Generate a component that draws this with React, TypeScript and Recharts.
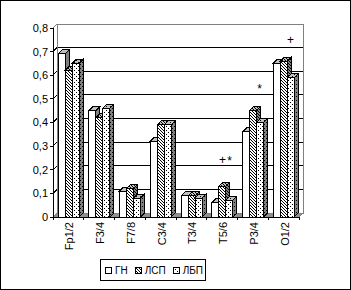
import { BarChart, Bar, XAxis, YAxis, CartesianGrid, Legend, ReferenceDot } from 'recharts';

const categories = ['Fp1/2', 'F3/4', 'F7/8', 'C3/4', 'T3/4', 'T5/6', 'P3/4', 'O1/2'];
const gnValues = [0.69, 0.45, 0.11, 0.32, 0.09, 0.06, 0.36, 0.65];
const lspValues = [0.62, 0.42, 0.12, 0.39, 0.09, 0.13, 0.45, 0.66];
const lbpValues = [0.65, 0.46, 0.08, 0.39, 0.08, 0.07, 0.4, 0.59];
const yTicks = [0, 0.1, 0.2, 0.3, 0.4, 0.5, 0.6, 0.7, 0.8];

// significance marks drawn over the bars
const marks = [
  { category: 'T5/6', series: 'lsp', level: 0.24, text: '+' },
  { category: 'T5/6', series: 'lbp', level: 0.235, text: '*' },
  { category: 'P3/4', series: 'lbp', level: 0.54, text: '*' },
  { category: 'O1/2', series: 'lbp', level: 0.75, text: '+' },
];

const series = [
  { key: 'gn', name: 'ГН', front: '#fff', top: '#c0c0c0', side: '#808080' },
  { key: 'lsp', name: 'ЛСП', front: 'url(#hatch)', top: 'url(#hatchTop)', side: 'url(#hatchSide)' },
  { key: 'lbp', name: 'ЛБП', front: 'url(#dots)', top: 'url(#dotsTop)', side: 'url(#dotsSide)' },
];

const data = categories.map((name, i) => ({
  name,
  gn: gnValues[i],
  lsp: lspValues[i],
  lbp: lbpValues[i],
}));

const W = 351;
const H = 290;
const PLOT_LEFT = 53;
const PLOT_RIGHT = 299;
const PLOT_TOP = 28;
const PLOT_BOTTOM = 217;
const X_AXIS_H = 30;
const DEPTH = 4;
const BAR = 7;
const BAND = (PLOT_RIGHT - PLOT_LEFT) / categories.length;
const FONT = '"Liberation Sans", Arial, sans-serif';

const makeBar = (s: (typeof series)[number]) => (p: any) => {
  const { x, y, width, height } = p;
  const d = DEPTH;
  return (
    <g stroke="#000" strokeWidth={1}>
      <polygon
        points={`${x + width},${y} ${x + width + d},${y - d} ${x + width + d},${y + height - d} ${x + width},${y + height}`}
        fill={s.side}
      />
      <polygon points={`${x},${y} ${x + d},${y - d} ${x + width + d},${y - d} ${x + width},${y}`} fill={s.top} />
      <rect x={x} y={y} width={width} height={height} fill={s.front} />
    </g>
  );
};

const gridLine = (p: any) => {
  const { x1, x2, y1 } = p;
  const d = DEPTH;
  if (Math.abs(y1 - PLOT_BOTTOM) < 1) {
    return (
      <polygon
        key="floor"
        points={`${x1},${y1} ${x1 + d},${y1 - d} ${x2 + d},${y1 - d} ${x2},${y1}`}
        fill="#909090"
        stroke="#808080"
      />
    );
  }
  if (Math.abs(y1 - PLOT_TOP) < 1) {
    return (
      <g key="wall" stroke="#808080" fill="none">
        <rect x={x1 + d} y={y1 - d} width={x2 - x1} height={PLOT_BOTTOM - PLOT_TOP} />
        <line x1={x1} y1={y1} x2={x1 + d} y2={y1 - d} />
        <line x1={x2} y1={PLOT_BOTTOM} x2={x2 + d} y2={PLOT_BOTTOM - d} />
      </g>
    );
  }
  return (
    <g key={`g${y1}`} stroke="#000">
      <line x1={x1} y1={y1} x2={x1 + d} y2={y1 - d} />
      <line x1={x1 + d} y1={y1 - d} x2={x2 + d} y2={y1 - d} />
    </g>
  );
};

const XTick = (p: any) => {
  const { x, payload, index } = p;
  const half = BAND / 2;
  return (
    <g>
      <line x1={x - half} y1={PLOT_BOTTOM} x2={x - half} y2={PLOT_BOTTOM + 3} stroke="#000" />
      {index === categories.length - 1 ? (
        <line x1={x + half} y1={PLOT_BOTTOM} x2={x + half} y2={PLOT_BOTTOM + 3} stroke="#000" />
      ) : null}
      <text
        transform={`translate(${x + 1},${PLOT_BOTTOM + 5}) rotate(-90)`}
        textAnchor="end"
        dominantBaseline="central"
        fontSize={11}
        fill="#000"
        fontFamily={FONT}
      >
        {payload.value}
      </text>
    </g>
  );
};

const slotOffset: Record<string, number> = { gn: -BAR, lsp: 0, lbp: BAR };

const LegendBox = () => (
  <div
    style={{
      boxSizing: 'border-box',
      width: 106,
      height: 22,
      border: '1px solid #000',
      background: '#fff',
      display: 'flex',
      alignItems: 'center',
      paddingLeft: 4,
      fontFamily: FONT,
      fontSize: 10,
      color: '#000',
    }}
  >
    {series.map((s) => (
      <span key={s.key} style={{ display: 'flex', alignItems: 'center', marginRight: 7 }}>
        <svg width={7} height={7} style={{ marginRight: 3 }}>
          <rect x={0.5} y={0.5} width={6} height={6} fill={s.front} stroke="#000" />
        </svg>
        {s.name}
      </span>
    ))}
  </div>
);

export default function App() {
  return (
    <div
      style={{
        position: 'absolute',
        left: 0,
        top: 0,
        width: W,
        height: H,
        background: '#fff',
        shapeRendering: 'crispEdges',
      }}
    >
      <BarChart
        width={W}
        height={H}
        data={data}
        margin={{ top: PLOT_TOP, right: W - PLOT_RIGHT, bottom: H - PLOT_BOTTOM - X_AXIS_H, left: 0 }}
        barSize={BAR}
        barGap={0}
        style={{ fontFamily: FONT }}
      >
        <defs>
          <pattern id="hatch" patternUnits="userSpaceOnUse" width={3} height={3}>
            <rect width={3} height={3} fill="#fff" />
            <path d="M-1,-1 L4,4 M-1,2 L1,4 M2,-1 L4,1" stroke="#000" strokeWidth={1.1} />
          </pattern>
          <pattern id="hatchTop" patternUnits="userSpaceOnUse" width={3} height={3}>
            <rect width={3} height={3} fill="#c0c0c0" />
            <path d="M-1,-1 L4,4 M-1,2 L1,4 M2,-1 L4,1" stroke="#000" strokeWidth={1.1} />
          </pattern>
          <pattern id="hatchSide" patternUnits="userSpaceOnUse" width={3} height={3}>
            <rect width={3} height={3} fill="#808080" />
            <path d="M-1,-1 L4,4 M-1,2 L1,4 M2,-1 L4,1" stroke="#000" strokeWidth={1.1} />
          </pattern>
          <pattern id="dots" patternUnits="userSpaceOnUse" width={4} height={4}>
            <rect width={4} height={4} fill="#fff" />
            <rect x={0} y={0} width={1} height={1} fill="#000" />
            <rect x={2} y={2} width={1} height={1} fill="#000" />
          </pattern>
          <pattern id="dotsTop" patternUnits="userSpaceOnUse" width={4} height={4}>
            <rect width={4} height={4} fill="#c0c0c0" />
            <rect x={0} y={0} width={1} height={1} fill="#000" />
            <rect x={2} y={2} width={1} height={1} fill="#000" />
          </pattern>
          <pattern id="dotsSide" patternUnits="userSpaceOnUse" width={4} height={4}>
            <rect width={4} height={4} fill="#808080" />
            <rect x={0} y={0} width={1} height={1} fill="#000" />
            <rect x={2} y={2} width={1} height={1} fill="#000" />
          </pattern>
        </defs>
        <CartesianGrid vertical={false} horizontal={gridLine} />
        <XAxis
          dataKey="name"
          height={X_AXIS_H}
          interval={0}
          tickLine={false}
          tickSize={3}
          tickMargin={2}
          axisLine={{ stroke: '#000' }}
          tick={<XTick />}
        />
        <YAxis
          width={PLOT_LEFT}
          domain={[0, 0.8]}
          ticks={yTicks}
          interval={0}
          tickSize={3}
          tickMargin={2}
          axisLine={{ stroke: '#000' }}
          tickLine={{ stroke: '#000' }}
          tick={{ fill: '#000', fontSize: 11, fontFamily: FONT }}
          tickFormatter={(v: number) => String(Math.round(v * 10) / 10).replace('.', ',')}
        />
        {series.map((s) => (
          <Bar key={s.key} dataKey={s.key} name={s.name} isAnimationActive={false} shape={makeBar(s)} />
        ))}
        {marks.map((m, i) => (
          <ReferenceDot
            key={`mark-${i}`}
            x={m.category}
            y={m.level}
            shape={(p: any) => (
              <text
                x={Math.floor(p.cx + slotOffset[m.series]) + 0.5}
                y={Math.round(p.cy)}
                textAnchor="middle"
                dominantBaseline="central"
                fontSize={12}
                fontFamily={FONT}
                fill="#000"
                stroke="none"
              >
                {m.text}
              </text>
            )}
          />
        ))}
        <Legend
          layout="horizontal"
          verticalAlign="middle"
          align="center"
          wrapperStyle={{ left: 100, top: 259, width: 106, height: 22 }}
          content={() => <LegendBox />}
        />
      </BarChart>
      <div
        style={{
          position: 'absolute',
          left: 0,
          top: 0,
          width: W,
          height: H,
          boxSizing: 'border-box',
          border: '1px solid #000',
          pointerEvents: 'none',
        }}
      />
    </div>
  );
}
